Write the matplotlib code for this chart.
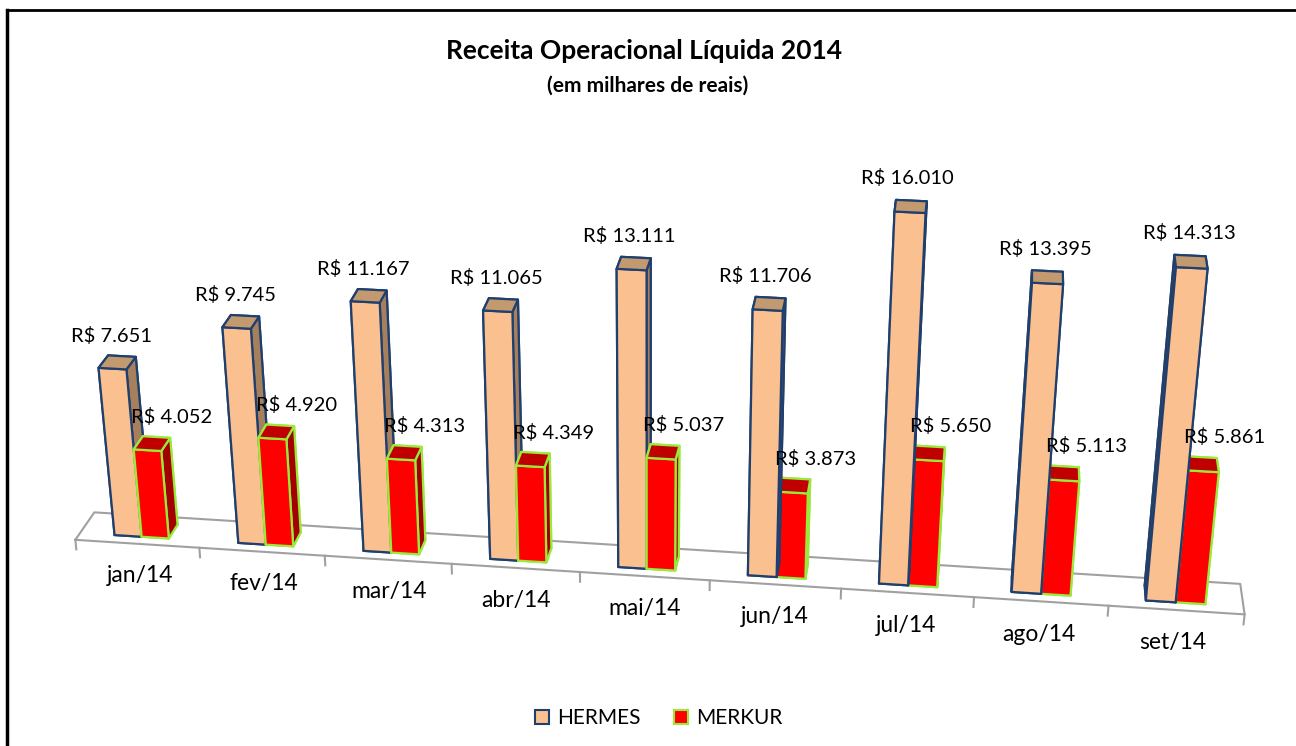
import numpy as np
import matplotlib.pyplot as plt
from matplotlib.patches import Patch
from matplotlib.lines import Line2D
from mpl_toolkits.mplot3d import proj3d

months = ['jan/14', 'fev/14', 'mar/14', 'abr/14', 'mai/14',
          'jun/14', 'jul/14', 'ago/14', 'set/14']
hermes = [7651, 9745, 11167, 11065, 13111, 11706, 16010, 13395, 14313]
merkur = [4052, 4920, 4313, 4349, 5037, 3873, 5650, 5113, 5861]


def brl(v):
    return 'R$ ' + f'{v:,}'.replace(',', '.')


plt.rcParams['font.family'] = ['Lato', 'DejaVu Sans']

W, H = 1296, 746
fig = plt.figure(figsize=(W / 100, H / 100), dpi=100)
# 3D axes are drawn in a square box: make it as wide as the figure
ax = fig.add_axes([-0.013, -0.422, 1.0, W / H], projection='3d')
ax.computed_zorder = False

n = len(months)
bw = 0.22
y0, dy = 0.25, 0.5

# faces: -z, +z, -y, +y, -x, +x
herm_faces = ['#FAC090', '#C39A70', '#FAC090', '#FAC090', '#5C4632', '#A67F5D']
merk_faces = ['#FF0000', '#C00000', '#FF0000', '#FF0000', '#800000', '#A50000']

# floor outline and ticks
grey = '#A0A0A0'
ax.plot([0, n, n, 0, 0], [0, 0, 1, 1, 0], [0, 0, 0, 0, 0],
        color=grey, lw=1.5, zorder=0.5)
for i in range(n + 1):
    ax.plot([i, i], [0, 0], [0, -450], color=grey, lw=1.5, zorder=0.5)


def column(x, h, faces, edge):
    ax.bar3d(x, y0, 0, bw, dy, h, color=faces, edgecolor=edge,
             linewidth=1.6, shade=False, zorder=1)


# paint in view order: left of the eye point the red bar is nearer,
# right of it the peach bar is nearer
for i in range(n):
    herm = (i + 0.28, hermes[i], herm_faces, '#1F3F6E')
    merk = (i + 0.28 + bw, merkur[i], merk_faces, '#9BEA3B')
    for args in ([herm, merk] if i <= 4 else [merk, herm]):
        column(*args)

ax.set_xlim(0, n)
ax.set_ylim(0, 1)
ax.set_zlim(-2000, 17000)
ax.set_box_aspect((1150, 60, 458), zoom=0.97)
ax.view_init(elev=25, azim=-82.5)
ax.set_proj_type('persp', focal_length=0.38)
ax.set_axis_off()

# labels: project the 3D anchor points, then write plain 2D text
fig.canvas.draw()
M = ax.get_proj()


def label(x, y, z, s, **kw):
    px, py, _ = proj3d.proj_transform(x, y, z, M)
    ax.text2D(px, py, s, transform=ax.transData, **kw)


for i in range(n):
    label(i + 0.5, 0, -1500, months[i], ha='center', va='center', fontsize=16.5)
    label(i + 0.36, y0 + dy / 2, hermes[i] + 1150, brl(hermes[i]),
          ha='center', va='center', fontsize=14.5)
    label(i + 0.46, y0 + dy / 2, merkur[i] + 1150, brl(merkur[i]),
          ha='left', va='center', fontsize=14.5)

fig.text(0.497, 0.931, 'Receita Operacional Líquida 2014', ha='center', va='center',
         fontsize=19, fontweight='bold')
fig.text(0.5, 0.885, '(em milhares de reais)', ha='center', va='center',
         fontsize=15, fontweight='bold')

handles = [Patch(facecolor='#FAC090', edgecolor='#1F3F6E', lw=1.5),
           Patch(facecolor='#FF0000', edgecolor='#9BEA3B', lw=1.5)]
fig.legend(handles, ['HERMES', 'MERKUR'], loc='center', ncol=2, frameon=False,
           bbox_to_anchor=(0.5085, 0.037), fontsize=15, handlelength=0.67,
           handleheight=0.67, handletextpad=0.4, columnspacing=1.6)

# outer chart border (only left and top edges are inside the picture)
top = 1 - 10 / H
left = 7 / W
fig.add_artist(Line2D([left, left], [0, top], transform=fig.transFigure,
                      color='black', lw=2.5))
fig.add_artist(Line2D([left, 1], [top, top], transform=fig.transFigure,
                      color='black', lw=2.0))

fig.savefig('out.png', dpi=100)
